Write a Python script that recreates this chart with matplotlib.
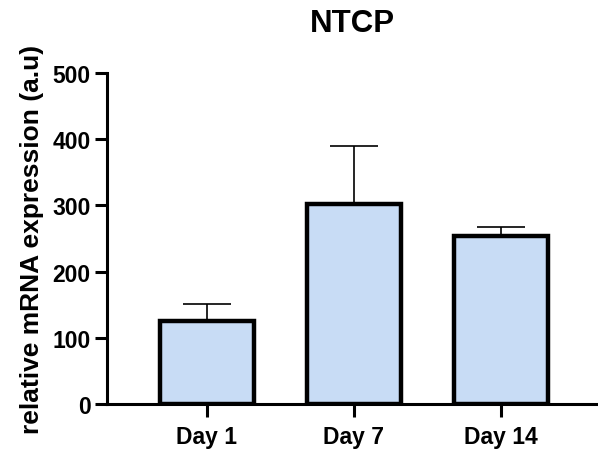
import matplotlib.pyplot as plt
import numpy as np

plt.rcParams['font.family'] = ['Liberation Sans', 'DejaVu Sans']
plt.rcParams['font.weight'] = 'bold'

days = ['Day 1', 'Day 7', 'Day 14']
means = [125, 302, 254]
errs = [26, 88, 13]

fig = plt.figure(figsize=(5.98, 4.56), dpi=100)
ax = fig.add_axes([0.179, 0.112, 0.821, 0.726])

x = np.arange(len(days))
ax.errorbar(x, means, yerr=[np.zeros(len(errs)), errs], fmt='none',
            ecolor='black', elinewidth=1.2, capsize=17.5, capthick=1.2, zorder=1)
ax.bar(x, means, width=0.64, color='#C8DCF5', edgecolor='black', linewidth=3.2, zorder=2)

ax.set_ylim(0, 500)
ax.set_xlim(-0.68, 2.66)
ax.set_yticks([0, 100, 200, 300, 400, 500])
ax.set_xticks(x)
ax.set_xticklabels(days)

ax.spines['top'].set_visible(False)
ax.spines['right'].set_visible(False)
ax.spines['left'].set_linewidth(2.2)
ax.spines['bottom'].set_linewidth(2.2)
ax.tick_params(axis='both', width=2.2, length=9, labelsize=16.5)
ax.tick_params(axis='x', pad=6)
ax.tick_params(axis='y', pad=3)

ax.set_ylabel('relative mRNA expression (a.u)', fontsize=19, fontweight='bold', labelpad=6)
ax.set_title('NTCP', fontsize=22.5, fontweight='bold', pad=30)

fig.savefig('out.png', dpi=100)
